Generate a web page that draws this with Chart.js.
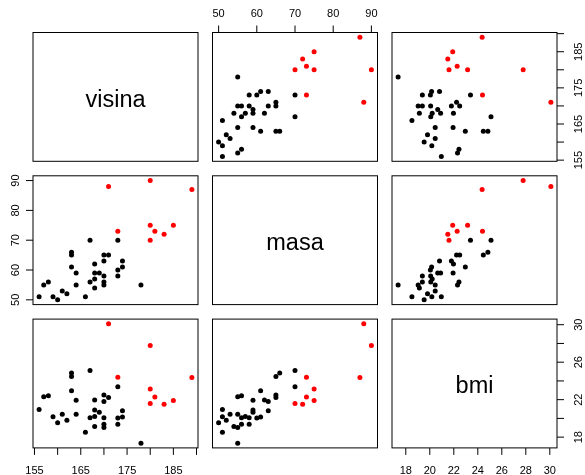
<!DOCTYPE html>
<html>
<head>
<meta charset="utf-8">
<script src="https://cdn.jsdelivr.net/npm/chart.js@4/dist/chart.umd.min.js"></script>
<style>
  html, body { margin: 0; padding: 0; background: #ffffff; }
  #wrap { position: relative; width: 585px; height: 475px; overflow: hidden; }
  #wrap canvas { position: absolute; left: 0; top: 0; }
</style>
</head>
<body>
<div id="wrap"></div>
<script>
// ---------------- data ----------------
const varNames = ['visina', 'masa', 'bmi'];

const visina = [156, 157, 158, 159, 160, 161, 162, 163, 163, 163, 164, 164, 166, 167, 167,
  168, 168, 168, 168, 169, 170, 170, 170, 170, 170, 171, 171, 173, 173, 173, 173,
  174, 174, 178, 180, 180, 180, 181, 183, 185, 189];

const masa = [51, 55, 56, 51, 50, 53, 52, 66, 65, 61, 59, 55, 51, 70, 56,
  62, 59, 57, 54, 59, 65, 63, 58, 56, 55, 65, 88, 73, 70, 60, 58,
  63, 61, 55, 90, 75, 70, 73, 72, 75, 87];

const bmi = [20.96, 22.31, 22.43, 20.17, 19.53, 20.45, 19.81, 24.84, 24.46, 22.96, 21.94, 20.45, 18.51, 25.10, 20.08,
  21.97, 20.90, 20.20, 19.13, 20.66, 22.49, 21.80, 20.07, 19.38, 19.03, 22.23, 30.09, 24.39, 23.39, 20.05, 19.38,
  20.81, 20.15, 17.36, 27.78, 23.15, 21.60, 22.28, 21.50, 21.91, 24.36];

// 1 = red group, 0 = black group
const grupa = [0, 0, 0, 0, 0, 0, 0, 0, 0, 0, 0, 0, 0, 0, 0,
  0, 0, 0, 0, 0, 0, 0, 0, 0, 0, 0, 1, 1, 0, 0, 0,
  0, 0, 0, 1, 1, 1, 1, 1, 1, 1];

const visinaTicks = [155, 160, 165, 170, 175, 180, 185, 190];
const visinaLabels = [155, 165, 175, 185];
const masaTicks = [50, 60, 70, 80, 90];
const masaLabels = [50, 60, 70, 80, 90];
const bmiTicks = [18, 20, 22, 24, 26, 28, 30];
const bmiLabelsBottom = [18, 20, 22, 24, 26, 28, 30];
const bmiLabelsRight = [18, 22, 26, 30];

// ---------------- layout ----------------
const COLS = [[33, 198], [212.5, 377.5], [392, 557]];
const ROWS = [[32.5, 161.3], [175.8, 304.6], [319.1, 447.9]];
const W = 585, H = 475;
const FONT = '"Liberation Sans", Arial, Helvetica, sans-serif';

const values = [visina, masa, bmi];
function range(arr) {
  const lo = Math.min(...arr), hi = Math.max(...arr);
  const d = (hi - lo) * 0.04;
  return [lo - d, hi + d];
}
const ranges = values.map(range);

// axes drawn on which panels (R pairs convention)
const axesFor = {
  '0,1': [{ side: 'top', ticks: masaTicks, labels: masaLabels }],
  '0,2': [{ side: 'right', ticks: visinaTicks, labels: visinaLabels }],
  '1,0': [{ side: 'left', ticks: masaTicks, labels: masaLabels }],
  '2,0': [{ side: 'bottom', ticks: visinaTicks, labels: visinaLabels }],
  '2,2': [{ side: 'bottom', ticks: bmiTicks, labels: bmiLabelsBottom },
          { side: 'right', ticks: bmiTicks, labels: bmiLabelsRight }]
};

const panelPlugin = {
  id: 'rPanel',
  afterDraw(chart, args, opts) {
    const ctx = chart.ctx, a = chart.chartArea;
    ctx.save();
    ctx.strokeStyle = '#000';
    ctx.lineWidth = 1;
    ctx.strokeRect(a.left, a.top, a.right - a.left, a.bottom - a.top);
    ctx.fillStyle = '#000';
    const TL = 7;
    for (const ax of (opts.axes || [])) {
      const horiz = ax.side === 'top' || ax.side === 'bottom';
      const sc = horiz ? chart.scales.x : chart.scales.y;
      ctx.beginPath();
      for (const t of ax.ticks) {
        const p = sc.getPixelForValue(t);
        if (ax.side === 'bottom') { ctx.moveTo(p, a.bottom); ctx.lineTo(p, a.bottom + TL); }
        else if (ax.side === 'top') { ctx.moveTo(p, a.top); ctx.lineTo(p, a.top - TL); }
        else if (ax.side === 'left') { ctx.moveTo(a.left, p); ctx.lineTo(a.left - TL, p); }
        else { ctx.moveTo(a.right, p); ctx.lineTo(a.right + TL, p); }
      }
      ctx.stroke();
      ctx.font = '11px ' + FONT;
      ctx.textAlign = 'center';
      ctx.textBaseline = 'alphabetic';
      for (const l of ax.labels) {
        const p = sc.getPixelForValue(l);
        const s = String(l);
        if (ax.side === 'bottom') ctx.fillText(s, p, a.bottom + 26);
        else if (ax.side === 'top') ctx.fillText(s, p, a.top - 15.8);
        else {
          const x = ax.side === 'left' ? a.left - 14.5 : a.right + 24.7;
          ctx.save();
          ctx.translate(x, p);
          ctx.rotate(-Math.PI / 2);
          ctx.fillText(s, 0, 0);
          ctx.restore();
        }
      }
    }
    if (opts.title) {
      ctx.font = '23.5px ' + FONT;
      ctx.textAlign = 'center';
      ctx.textBaseline = 'alphabetic';
      ctx.fillText(opts.title, (a.left + a.right) / 2, (a.top + a.bottom) / 2 + 9.8);
    }
    ctx.restore();
  }
};

const wrap = document.getElementById('wrap');
for (let r = 0; r < 3; r++) {
  for (let c = 0; c < 3; c++) {
    const cv = document.createElement('canvas');
    cv.width = W; cv.height = H;
    cv.style.width = W + 'px'; cv.style.height = H + 'px';
    wrap.appendChild(cv);
    const diag = r === c;
    const pts = diag ? [] : visina.map((_, i) => ({ x: values[c][i], y: values[r][i] }));
    const colors = grupa.map(g => g ? '#FF0000' : '#000000');
    new Chart(cv, {
      type: 'scatter',
      data: {
        datasets: [{
          data: pts,
          pointBackgroundColor: colors,
          pointBorderColor: colors,
          pointBorderWidth: 0,
          pointRadius: 2.5,
          pointHoverRadius: 2.5,
          showLine: false
        }]
      },
      options: {
        responsive: false,
        animation: false,
        devicePixelRatio: 1,
        events: [],
        layout: {
          padding: { left: COLS[c][0], right: W - COLS[c][1], top: ROWS[r][0], bottom: H - ROWS[r][1] }
        },
        scales: {
          x: { type: 'linear', display: false, min: ranges[c][0], max: ranges[c][1] },
          y: { type: 'linear', display: false, min: ranges[r][0], max: ranges[r][1] }
        },
        plugins: {
          legend: { display: false },
          tooltip: { enabled: false },
          rPanel: { axes: axesFor[r + ',' + c] || [], title: diag ? varNames[r] : null }
        }
      },
      plugins: [panelPlugin]
    });
  }
}
</script>
</body>
</html>
